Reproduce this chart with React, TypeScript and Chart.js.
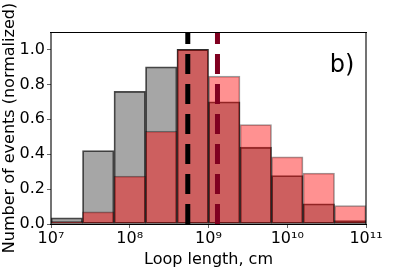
import { useEffect, useRef } from 'react';
import { Chart, registerables } from 'chart.js';

Chart.register(...registerables);

// Histogram bins: centres in log10(cm), bin width 0.4 dex
const binCenters = [7.2, 7.6, 8.0, 8.4, 8.8, 9.2, 9.6, 10.0, 10.4, 10.8];
const allEvents = [0.035, 0.42, 0.76, 0.9, 1.0, 0.7, 0.44, 0.277, 0.116, 0.02];
const subsetEvents = [0.015, 0.07, 0.275, 0.532, 1.0, 0.847, 0.57, 0.385, 0.292, 0.105];
const medianAll = 8.737;
const medianSubset = 9.114;
const xTicks = [7, 8, 9, 10, 11];
const yTicks = [0, 0.2, 0.4, 0.6, 0.8, 1.0];
const panelLabel = 'b)';
const xTitle = 'Loop length, cm';
const yTitle = 'Number of events (normalized)';

const SUP: Record<string, string> = {
  '0': '\u2070', '1': '\u00B9', '2': '\u00B2', '3': '\u00B3', '4': '\u2074',
  '5': '\u2075', '6': '\u2076', '7': '\u2077', '8': '\u2078', '9': '\u2079',
};
const sup = (n: number) => String(n).split('').map((c) => SUP[c] || c).join('');

const FONT = 'DejaVu Sans';

const framePlugin = {
  id: 'frame',
  afterDatasetsDraw(chart: any) {
    const { ctx, chartArea: a } = chart;
    ctx.save();
    ctx.strokeStyle = 'rgba(0,0,0,0.55)';
    ctx.lineWidth = 2;
    ctx.beginPath();
    ctx.moveTo(a.left, a.top);
    ctx.lineTo(a.left, a.bottom);
    ctx.moveTo(a.right, a.top);
    ctx.lineTo(a.right, a.bottom);
    ctx.stroke();
    ctx.strokeStyle = '#000';
    ctx.lineWidth = 1;
    ctx.beginPath();
    ctx.moveTo(a.left - 1, a.top + 0.5);
    ctx.lineTo(a.right + 1, a.top + 0.5);
    ctx.moveTo(a.left - 1, a.bottom + 0.5);
    ctx.lineTo(a.right + 1, a.bottom + 0.5);
    ctx.stroke();
    ctx.fillStyle = '#000';
    ctx.font = `24px "${FONT}"`;
    ctx.textAlign = 'left';
    ctx.textBaseline = 'alphabetic';
    ctx.fillText(panelLabel, a.left + (a.right - a.left) * 0.885, a.top + (a.bottom - a.top) * 0.21);
    ctx.restore();
  },
};

export default function App() {
  const ref = useRef<HTMLCanvasElement | null>(null);

  useEffect(() => {
    if (!ref.current) return;
    Chart.defaults.font.family = FONT;
    Chart.defaults.color = '#000';
    const barCommon = {
      type: 'bar' as const,
      grouped: false,
      barPercentage: 1,
      categoryPercentage: 1,
      borderSkipped: false,
      borderWidth: 1.1,
    };
    const chart = new Chart(ref.current, {
      type: 'bar',
      data: {
        datasets: [
          {
            type: 'line',
            label: 'median all',
            data: [{ x: medianAll, y: 0 }, { x: medianAll, y: 1.1 }],
            borderColor: '#000000',
            borderWidth: 5,
            borderDash: [20, 10],
            pointRadius: 0,
            order: 0,
          },
          {
            type: 'line',
            label: 'median subset',
            data: [{ x: medianSubset, y: 0 }, { x: medianSubset, y: 1.1 }],
            borderColor: '#800020',
            borderWidth: 5,
            borderDash: [20, 10],
            pointRadius: 0,
            order: 0,
          },
          {
            ...barCommon,
            label: 'subset',
            data: binCenters.map((x, i) => ({ x, y: subsetEvents[i] })),
            backgroundColor: 'rgba(255,0,0,0.43)',
            borderColor: 'rgba(0,0,0,0.4)',
            order: 1,
          },
          {
            ...barCommon,
            label: 'all',
            data: binCenters.map((x, i) => ({ x, y: allEvents[i] })),
            backgroundColor: 'rgba(0,0,0,0.35)',
            borderColor: 'rgba(0,0,0,0.7)',
            order: 2,
          },
        ] as any,
      },
      options: {
        responsive: false,
        animation: false,
        devicePixelRatio: 1,
        layout: { padding: { left: 0, top: 32, right: 41, bottom: 0 } },
        plugins: {
          legend: { display: false },
          tooltip: { enabled: false },
        },
        scales: {
          x: {
            type: 'linear',
            min: 7,
            max: 11,
            offset: false,
            grid: { display: true, drawOnChartArea: false, drawTicks: true, tickLength: 4, tickColor: 'rgba(0,0,0,0.6)', offset: false },
            border: { display: false },
            afterBuildTicks: (s: any) => { s.ticks = xTicks.map((v) => ({ value: v })); },
            afterFit: (s: any) => { s.height = 47; },
            ticks: {
              font: { size: 16 },
              padding: 1,
              maxRotation: 0,
              autoSkip: false,
              callback: (v: any) => '10' + sup(Number(v)),
            },
            title: { display: true, text: xTitle, font: { size: 16 }, padding: { top: 0, bottom: 2 } },
          },
          y: {
            type: 'linear',
            min: 0,
            max: 1.1,
            grid: { display: true, drawOnChartArea: false, drawTicks: true, tickLength: 4, tickColor: 'rgba(0,0,0,0.6)' },
            border: { display: false },
            afterBuildTicks: (s: any) => { s.ticks = yTicks.map((v) => ({ value: v })); },
            afterFit: (s: any) => { s.width = 51; },
            ticks: {
              font: { size: 16 },
              padding: 2,
              callback: (v: any) => Number(v).toFixed(1),
            },
            title: { display: true, text: yTitle, font: { size: 16 }, padding: { top: 0, bottom: 0 } },
          },
        },
      },
      plugins: [framePlugin],
    } as any);
    return () => chart.destroy();
  }, []);

  return (
    <div style={{ position: 'fixed', left: 0, top: 0, width: 407, height: 271, background: '#fff' }}>
      <canvas ref={ref} width={407} height={271} style={{ display: 'block' }} />
    </div>
  );
}
